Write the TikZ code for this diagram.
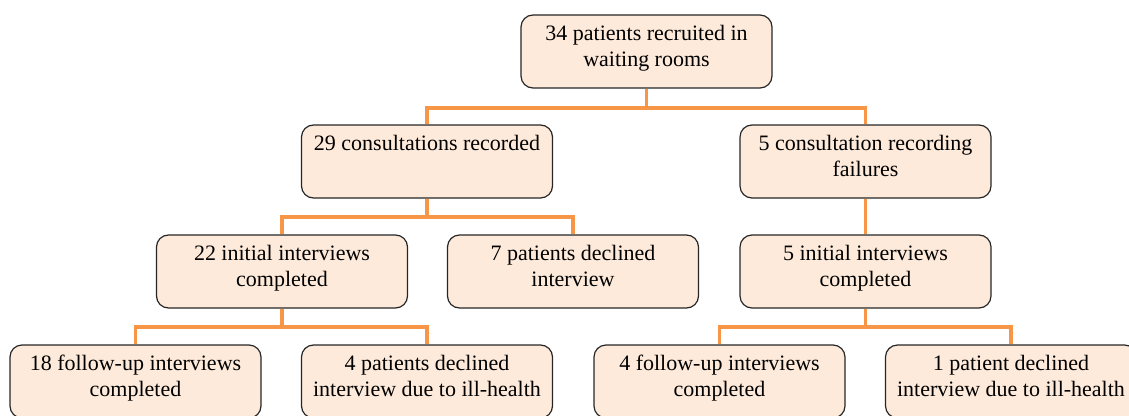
\documentclass[tikz,border=0pt]{standalone}
\usepackage{fontspec}
\setmainfont{Liberation Serif}
\definecolor{connorange}{HTML}{F79646}
\definecolor{boxfill}{HTML}{FDEADA}
\newcommand{\boxtext}[1]{\parbox[c][73pt][t]{250pt}{\centering\fontsize{22}{26}\selectfont\vspace*{7pt}\strut#1}}
\begin{document}
\begin{tikzpicture}[x=1pt,y=-1pt,
  flowbox/.style={draw=black!85, line width=1.2pt, fill=boxfill, rounded corners=12pt,
    inner sep=0pt, minimum width=251pt, minimum height=73pt},
  conn/.style={draw=connorange, line width=3.5pt}]
\useasboundingbox (0,0) rectangle (1129,415);
% level 1
\node[flowbox] (top) at (646.5,51.5) {\boxtext{34 patients recruited in\\waiting rooms}};
% level 2
\node[flowbox] (rec) at (427,161.5) {\boxtext{29 consultations recorded}};
\node[flowbox] (fail) at (865.5,161.5) {\boxtext{5 consultation recording\\failures}};
% level 3
\node[flowbox] (init22) at (282,271.5) {\boxtext{22 initial interviews\\completed}};
\node[flowbox] (decl7) at (573,271.5) {\boxtext{7 patients declined\\interview}};
\node[flowbox] (init5) at (865.5,271.5) {\boxtext{5 initial interviews\\completed}};
% level 4
\node[flowbox] (fu18) at (135.5,381.5) {\boxtext{18 follow-up interviews\\completed}};
\node[flowbox] (decl4) at (427,381.5) {\boxtext{4 patients declined\\interview due to ill-health}};
\node[flowbox] (fu4) at (719.5,381.5) {\boxtext{4 follow-up interviews\\completed}};
\node[flowbox] (decl1) at (1011,381.5) {\boxtext{1 patient declined\\interview due to ill-health}};
% junctions
\coordinate (j1) at (top.south |- 0,108);
\coordinate (j2) at (rec.south |- 0,217);
\coordinate (j3) at (init22.south |- 0,327);
\coordinate (j4) at (init5.south |- 0,327);
% connectors
\draw[conn] (top.south) -- (j1) -| (rec.north);
\draw[conn] (j1) -| (fail.north);
\draw[conn] (rec.south) -- (j2) -| (init22.north);
\draw[conn] (j2) -| (decl7.north);
\draw[conn] (fail.south) -- (init5.north);
\draw[conn] (init22.south) -- (j3) -| (fu18.north);
\draw[conn] (j3) -| (decl4.north);
\draw[conn] (init5.south) -- (j4) -| (fu4.north);
\draw[conn] (j4) -| (decl1.north);
\end{tikzpicture}
\end{document}
